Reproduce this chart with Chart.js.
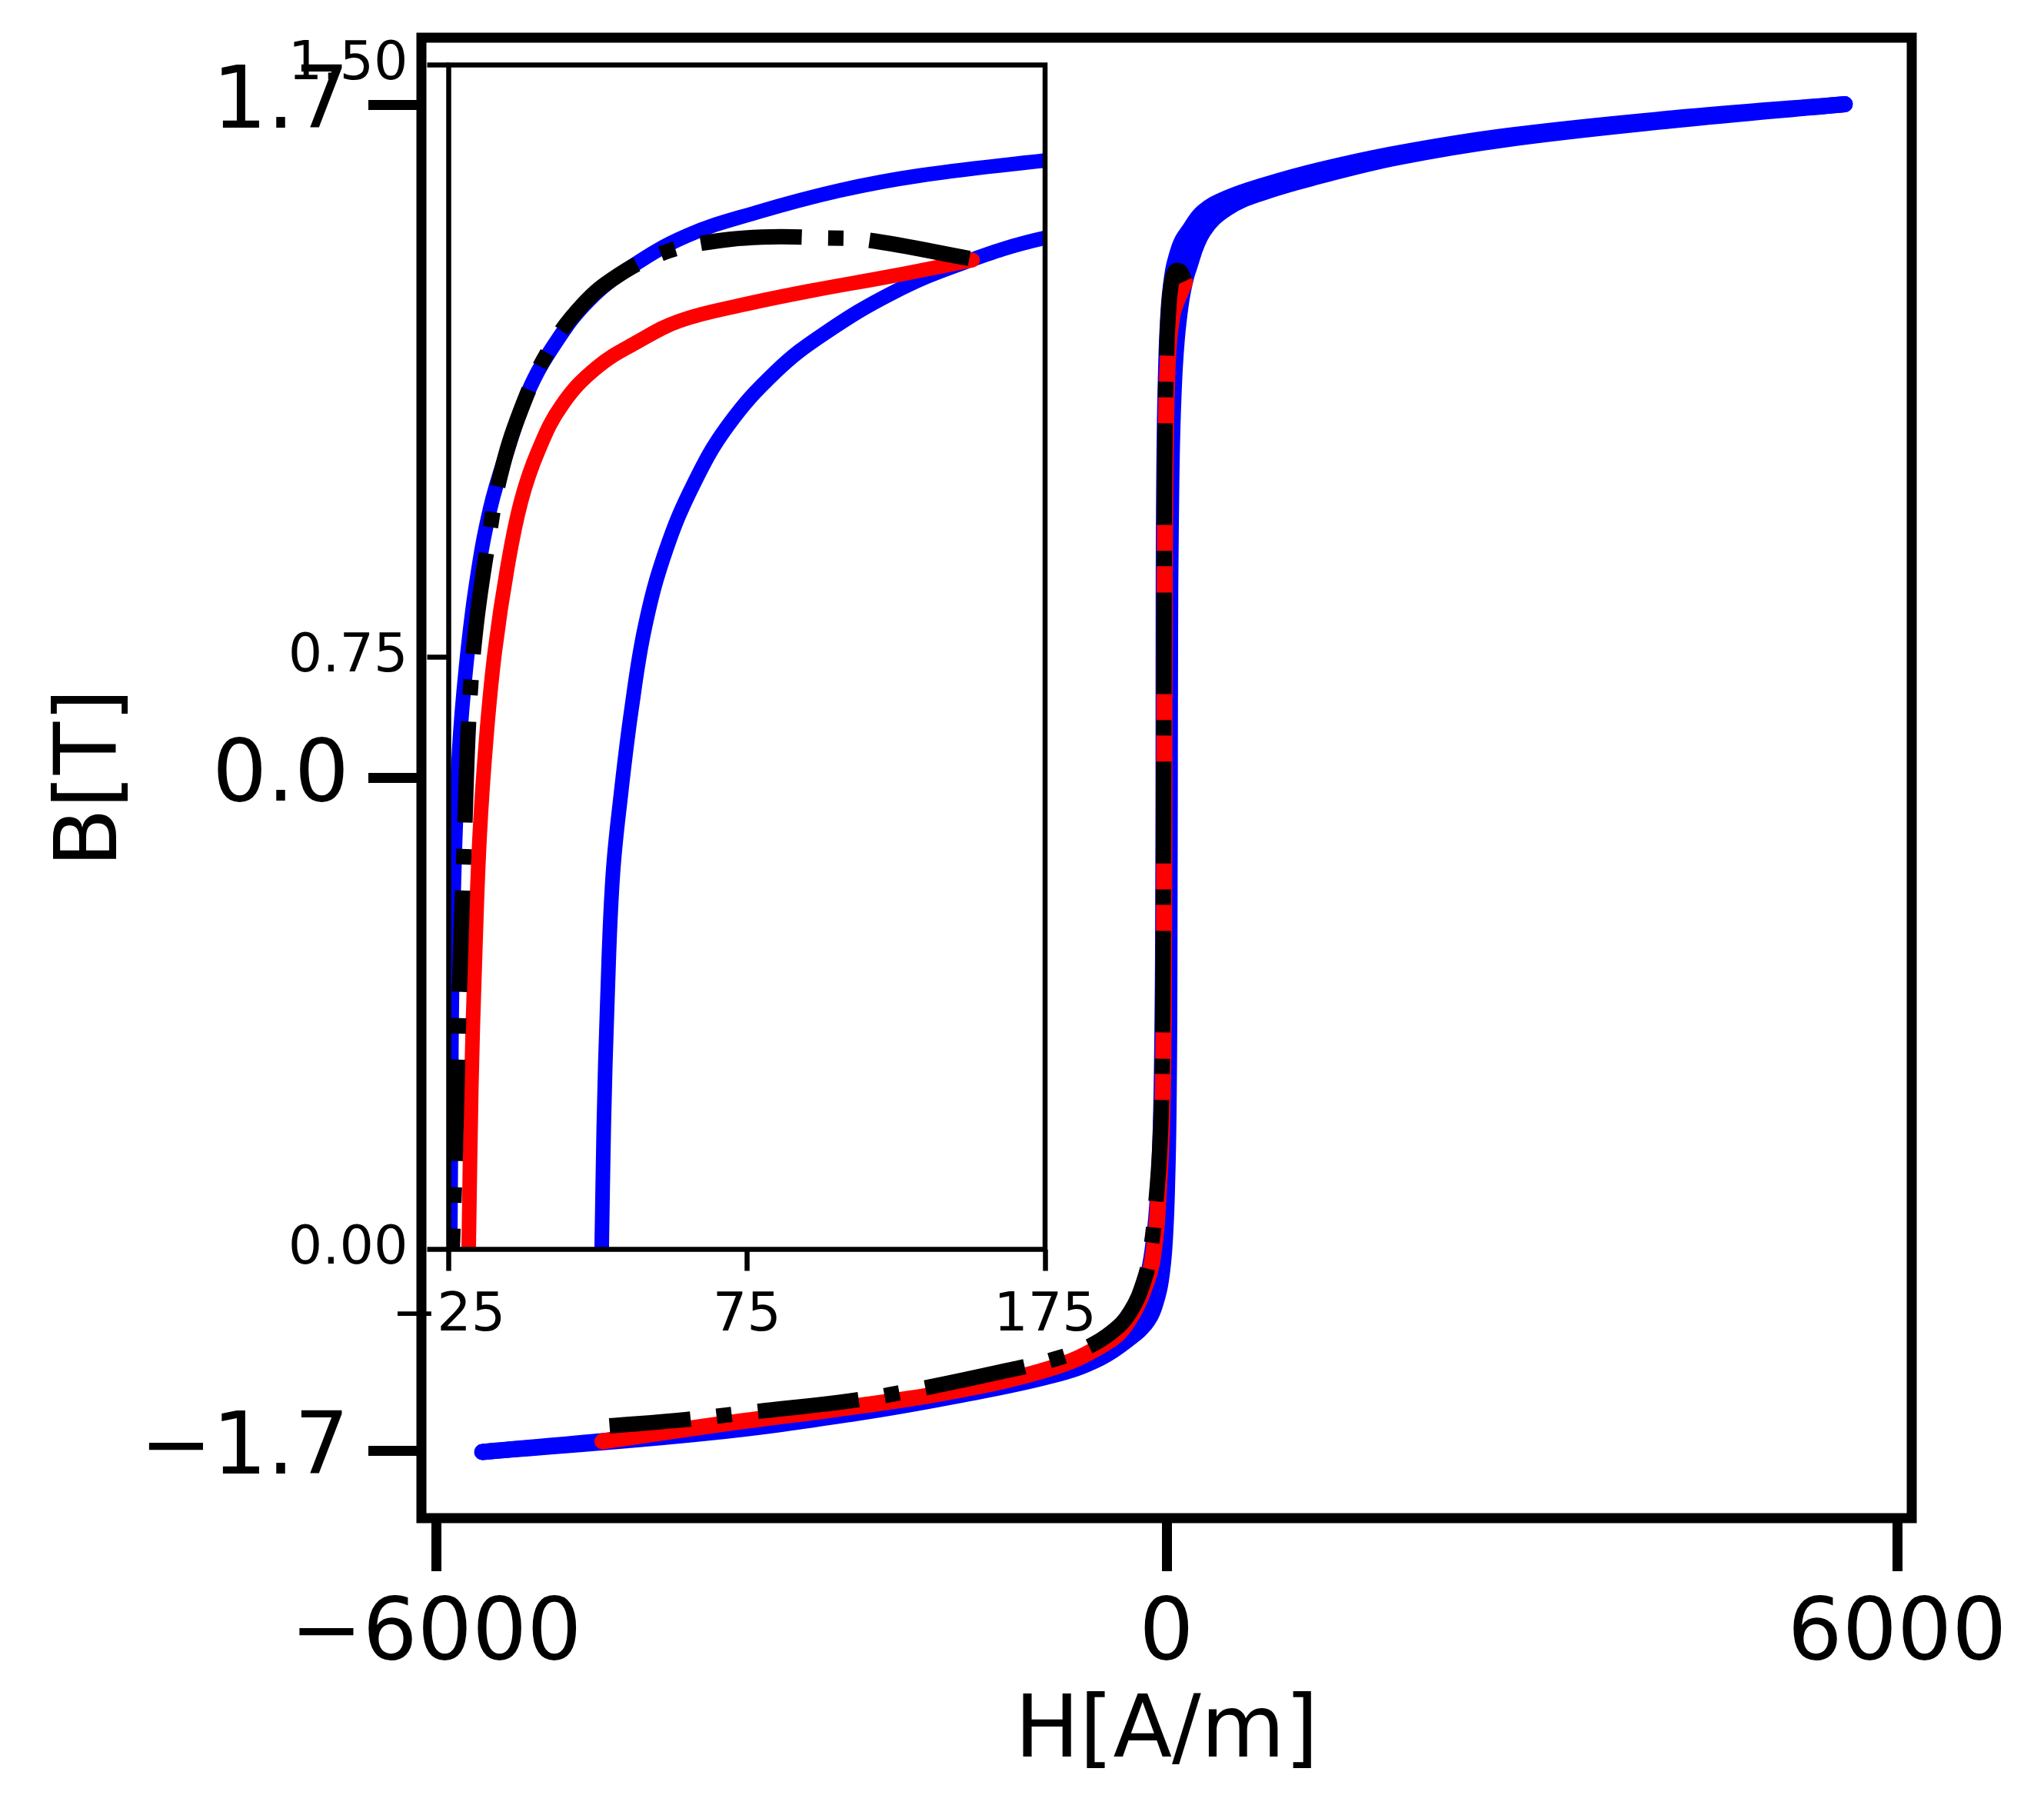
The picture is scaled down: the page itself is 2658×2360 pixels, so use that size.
<!DOCTYPE html>
<html>
<head>
<meta charset="utf-8">
<script src="https://cdn.jsdelivr.net/npm/chart.js@4/dist/chart.umd.min.js"></script>
<style>
  html, body { margin: 0; padding: 0; background: #ffffff; }
  #wrap { position: relative; width: 2658px; height: 2360px; }
  #wrap canvas { position: absolute; left: 0; top: 0; }
</style>
</head>
<body>
<div id="wrap">
  <canvas id="main" width="2658" height="2360"></canvas>
  <canvas id="inset" width="2658" height="2360"></canvas>
</div>
<script>
// ---------- data ----------
const blueDescH = [5570, 4150, 2800, 1900, 1250, 800, 500, 300, 175, 133, 106, 78, 55, 36, 22, 11, 1.6, -5.3, -11.1, -15.8, -19.2, -21.5, -23.2, -24.1, -24.5, -25.5, -27, -29, -32, -35.5, -40.5, -47.5, -57, -68.6, -84.8, -101, -124, -147, -175, -300, -500, -800, -1250, -1900, -2800, -4150, -5620];
const blueDescB = [1.702, 1.666, 1.622, 1.578, 1.535, 1.497, 1.465, 1.43, 1.379, 1.360, 1.341, 1.313, 1.284, 1.244, 1.202, 1.149, 1.086, 1.012, 0.938, 0.842, 0.737, 0.631, 0.472, 0.261, 0, -0.155, -0.314, -0.472, -0.578, -0.684, -0.79, -0.885, -0.969, -1.043, -1.112, -1.16, -1.212, -1.249, -1.281, -1.38, -1.44, -1.48, -1.52, -1.568, -1.614, -1.661, -1.703];

const blueAscH = [-5620, -3766, -2559, -1750, -948, -543, -259, -175, -133, -106, -78, -55, -36, -22, -11, -1.6, 5.3, 11.1, 15.8, 19.2, 21.5, 23.2, 24.5, 25.5, 26.3, 27.0, 28.2, 30.0, 32.8, 36.3, 40.9, 47.8, 57.1, 68.6, 84.8, 101, 124.1, 147.2, 175, 300, 500, 800, 1250, 1900, 2800, 4150, 5570];
const blueAscB = [-1.703, -1.654, -1.605, -1.562, -1.51, -1.465, -1.405, -1.379, -1.360, -1.341, -1.313, -1.284, -1.244, -1.202, -1.149, -1.086, -1.012, -0.938, -0.842, -0.737, -0.631, -0.472, -0.261, -0.12, 0, 0.155, 0.314, 0.472, 0.578, 0.684, 0.79, 0.885, 0.969, 1.043, 1.112, 1.16, 1.212, 1.249, 1.281, 1.38, 1.44, 1.48, 1.52, 1.568, 1.614, 1.661, 1.702];

const redH = [-4633, -3600, -2559, -1750, -948, -543, -341, -160, -95, -65, -40, -27, -22, -19.5, -18.3, -17.4, -16.2, -14.6, -12.3, -9.5, -5.3, -0.7, 5.1, 13.1, 24.7, 38.6, 52.5, 73.3, 96.4, 124.1, 150.7];
const redB = [-1.676, -1.63, -1.588, -1.549, -1.491, -1.436, -1.384, -1.27, -1.17, -1.05, -0.9, -0.72, -0.5, -0.25, 0, 0.208, 0.367, 0.525, 0.652, 0.758, 0.864, 0.948, 1.012, 1.070, 1.117, 1.150, 1.176, 1.196, 1.214, 1.233, 1.253];

const blackH = [149.6, 116, 101, 80.2, 59.4, 45.5, 31.6, 20.1, 8.5, -0.7, -7.7, -11.8, -15.8, -18.1, -19.7, -21.5, -22.9, -23.8, -25.5, -28, -33, -42, -60, -90, -125, -180, -300, -450, -663, -929, -1207, -2016, -2559, -3406, -3950, -4575];
const blackB = [1.255, 1.278, 1.281, 1.282, 1.274, 1.26, 1.233, 1.197, 1.138, 1.064, 0.98, 0.895, 0.79, 0.684, 0.525, 0.314, 0.103, 0, -0.2, -0.45, -0.65, -0.82, -0.96, -1.08, -1.18, -1.265, -1.35, -1.40, -1.44, -1.469, -1.49, -1.543, -1.572, -1.602, -1.621, -1.637];

const mainXTicks = [-6000, 0, 6000];
const mainXLabels = ['\u22126000', '0', '6000'];
const mainYTicks = [-1.7, 0, 1.7];
const mainYLabels = ['\u22121.7', '0.0', '1.7'];
const insetXTicks = [-25, 75, 175];
const insetXLabels = ['\u221225', '75', '175'];
const insetYTicks = [0, 0.75, 1.5];
const insetYLabels = ['0.00', '0.75', '1.50'];

// ---------- helpers ----------
const FAMILY = '"DejaVu Sans", sans-serif';
function pts(xs, ys) { return xs.map((x, i) => ({ x: x, y: ys[i] })); }

const framePlugin = {
  id: 'frame',
  beforeDatasetsDraw(chart, args, opts) {
    if (opts.fill) {
      const a = chart.chartArea, c = chart.ctx;
      c.save(); c.fillStyle = '#ffffff';
      c.fillRect(a.left, a.top, a.right - a.left, a.bottom - a.top);
      c.restore();
    }
  },
  afterDatasetsDraw(chart, args, opts) {
    const a = chart.chartArea, c = chart.ctx;
    c.save();
    c.strokeStyle = '#000000';
    c.lineWidth = opts.width;
    c.lineJoin = 'miter';
    c.strokeRect(a.left, a.top, a.right - a.left, a.bottom - a.top);
    c.restore();
  }
};

// Chart.js paints the first dataset on top, so the list runs top -> bottom.
function datasets(lw, lwBlack, dash) {
  const common = { showLine: true, pointRadius: 0, pointHoverRadius: 0, tension: 0.4, borderJoinStyle: 'round', clip: 0, fill: false };
  return [
    Object.assign({ data: pts(blackH, blackB), borderColor: '#000000', borderWidth: lwBlack, borderCapStyle: 'butt', borderDash: dash }, common),
    Object.assign({ data: pts(redH, redB), borderColor: '#ff0000', borderWidth: lw, borderCapStyle: 'round' }, common),
    Object.assign({ data: pts(blueAscH, blueAscB), borderColor: '#0000ff', borderWidth: lw, borderCapStyle: 'round' }, common),
    Object.assign({ data: pts(blueDescH, blueDescB), borderColor: '#0000ff', borderWidth: lw, borderCapStyle: 'round' }, common)
  ];
}

function axis(opts) {
  return {
    type: 'linear',
    min: opts.min, max: opts.max,
    afterFit(s) {
      if (opts.width !== undefined) s.width = opts.width;
      if (opts.height !== undefined) s.height = opts.height;
      s.paddingTop = 0; s.paddingBottom = 0; s.paddingLeft = 0; s.paddingRight = 0;
    },
    afterBuildTicks(s) { s.ticks = opts.ticks.map(v => ({ value: v })); },
    grid: { display: true, drawOnChartArea: false, drawTicks: true, tickLength: opts.tickLength, tickWidth: opts.tickWidth, tickColor: '#000000' },
    border: { display: false },
    ticks: {
      autoSkip: false, maxRotation: 0, minRotation: 0, color: '#000000',
      padding: opts.pad,
      font: { family: FAMILY, size: opts.fontSize },
      callback(v, i) { return opts.labels[i]; }
    },
    title: opts.title ? { display: true, text: opts.title, color: '#000000', font: { family: FAMILY, size: opts.fontSize }, padding: opts.titlePad } : { display: false }
  };
}

// ---------- main chart ----------
new Chart(document.getElementById('main'), {
  type: 'scatter',
  data: { datasets: datasets(21, 20, [132, 34, 20, 34]) },
  options: {
    responsive: false, animation: false, devicePixelRatio: 1,
    events: [],
    layout: { padding: { top: 49, right: 172, left: 0, bottom: 0 } },
    elements: { line: { capBezierPoints: false } },
    plugins: { legend: { display: false }, tooltip: { enabled: false }, frame: { width: 13, fill: false } },
    scales: {
      x: axis({ min: -6120, max: 6120, ticks: mainXTicks, labels: mainXLabels, height: 386, tickLength: 69, tickWidth: 13, pad: 18, fontSize: 112, title: 'H[A/m]', titlePad: { top: 0, bottom: 38 } }),
      y: axis({ min: -1.87, max: 1.87, ticks: mainYTicks, labels: mainYLabels, width: 548, tickLength: 69, tickWidth: 13, pad: 25, fontSize: 112, title: 'B[T]', titlePad: { top: 55, bottom: 0 } })
    }
  },
  plugins: [framePlugin]
});

// ---------- inset chart ----------
new Chart(document.getElementById('inset'), {
  type: 'scatter',
  data: { datasets: datasets(19, 20, [132, 34, 20, 34]) },
  options: {
    responsive: false, animation: false, devicePixelRatio: 1,
    events: [],
    layout: { padding: { top: 84.5, right: 1299, left: 0, bottom: 0 } },
    elements: { line: { capBezierPoints: false } },
    plugins: { legend: { display: false }, tooltip: { enabled: false }, frame: { width: 6.5, fill: true } },
    scales: {
      x: axis({ min: -25, max: 175, ticks: insetXTicks, labels: insetXLabels, height: 735.5, tickLength: 28, tickWidth: 6.5, pad: 17, fontSize: 70 }),
      y: axis({ min: 0, max: 1.5, ticks: insetYTicks, labels: insetYLabels, width: 583.5, tickLength: 28, tickWidth: 6.5, pad: 25, fontSize: 70 })
    }
  },
  plugins: [framePlugin]
});
</script>
</body>
</html>
